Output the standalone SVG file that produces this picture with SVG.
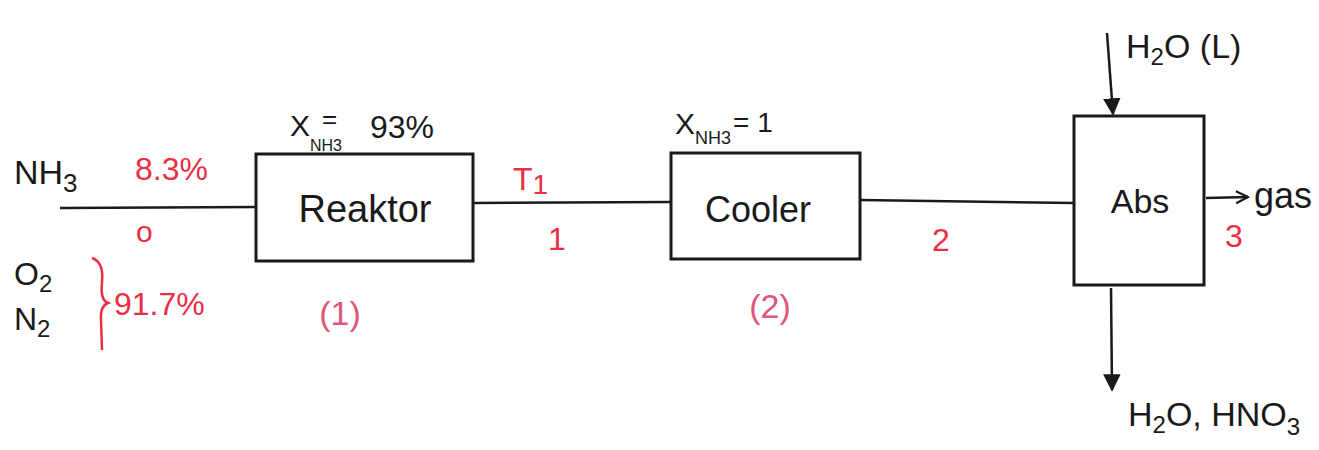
<svg xmlns="http://www.w3.org/2000/svg" width="1319" height="450" viewBox="0 0 1319 450">
<style>
.k{fill:#1a1a1a;font-family:"Liberation Sans",Arial,sans-serif;}
.r{fill:#ec2e45;font-family:"Liberation Sans",Arial,sans-serif;}
.p{fill:#e0557a;font-family:"Liberation Sans",Arial,sans-serif;}
.box{fill:#fff;stroke:#1a1a1a;stroke-width:3;}
.ln{fill:none;stroke:#1a1a1a;stroke-width:2.5;}
</style>
<defs>
<marker id="ah" viewBox="0 0 10 10" refX="9" refY="5" markerWidth="7" markerHeight="7" orient="auto"><path d="M0,0 L10,5 L0,10 z" fill="#1a1a1a"/></marker>
<marker id="oa" viewBox="0 0 10 10" refX="9" refY="5" markerWidth="6" markerHeight="6" orient="auto"><path d="M1,1 L9,5 L1,9" fill="none" stroke="#1a1a1a" stroke-width="1.5"/></marker>
</defs>
<rect width="1319" height="450" fill="#fff"/>
<g id="connectors">
<path class="ln" d="M60,208 L256,207"/>
<path class="ln" d="M473,203 L670,202"/>
<path class="ln" d="M860,200 L1074,203"/>
<path class="ln" d="M1107,33 L1113,114" marker-end="url(#ah)"/>
<path class="ln" d="M1206,198 L1248,197" marker-end="url(#oa)"/>
<path class="ln" d="M1111,288 L1112,390" marker-end="url(#ah)"/>
</g>
<g id="feed">
<text class="k" x="14" y="184" font-size="34">NH<tspan font-size="26" dy="8">3</tspan></text>
<text class="r" x="135" y="180" font-size="32">8.3%</text>
<text class="r" x="136" y="242" font-size="30">o</text>
<text class="k" x="14" y="285" font-size="32">O<tspan font-size="24" dy="7">2</tspan></text>
<text class="k" x="14" y="330" font-size="32">N<tspan font-size="24" dy="7">2</tspan></text>
<path d="M92,258 Q104,262 102,282 Q100,300 108,303 Q100,306 101,320 L102,350" fill="none" stroke="#ec2e45" stroke-width="2.5"/>
<text class="r" x="114" y="315" font-size="32">91.7%</text>
</g>
<g id="reaktor">
<rect class="box" x="256" y="154" width="217" height="107"/>
<text class="k" x="365" y="222" font-size="38" text-anchor="middle">Reaktor</text>
<text class="k" x="290" y="136" font-size="30">X</text>
<text class="k" x="310" y="151" font-size="16">NH3</text>
<text class="k" x="322" y="128" font-size="26">=</text>
<text class="k" x="370" y="138" font-size="32">93%</text>
<text class="p" x="340" y="325" font-size="34" text-anchor="middle">(1)</text>
</g>
<g id="stream1">
<text class="r" x="513" y="190" font-size="32">T<tspan font-size="28" dy="4">1</tspan></text>
<text class="r" x="557" y="250" font-size="32" text-anchor="middle">1</text>
</g>
<g id="cooler">
<rect class="box" x="671" y="153" width="189" height="106"/>
<text class="k" x="758" y="222" font-size="36" text-anchor="middle">Cooler</text>
<text class="k" x="675" y="134" font-size="30">X<tspan font-size="18" dy="10">NH3</tspan><tspan font-size="28" dx="2" dy="-12">= 1</tspan></text>
<text class="p" x="770" y="318" font-size="34" text-anchor="middle">(2)</text>
</g>
<g id="stream2">
<text class="r" x="941" y="251" font-size="32" text-anchor="middle">2</text>
</g>
<g id="abs">
<rect class="box" x="1074" y="116" width="130" height="169"/>
<text class="k" x="1140" y="213" font-size="34" text-anchor="middle">Abs</text>
<text class="k" x="1126" y="58" font-size="34">H<tspan font-size="24" dy="7">2</tspan><tspan font-size="34" dy="-7">O (L)</tspan></text>
<text class="k" x="1254" y="208" font-size="36">gas</text>
<text class="r" x="1234" y="247" font-size="32" text-anchor="middle">3</text>
<text class="k" x="1128" y="426" font-size="34">H<tspan font-size="24" dy="7">2</tspan><tspan font-size="34" dy="-7">O, HNO</tspan><tspan font-size="24" dy="9">3</tspan></text>
</g>
</svg>
